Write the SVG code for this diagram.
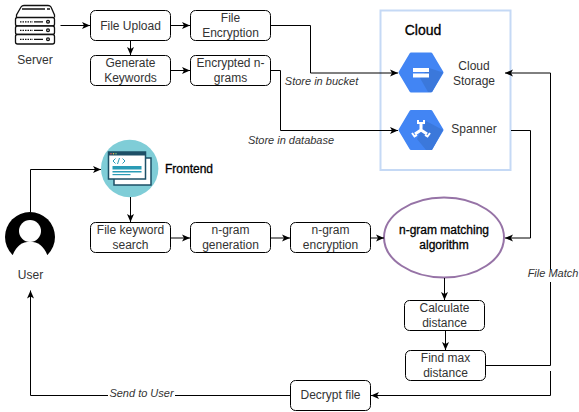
<svg xmlns="http://www.w3.org/2000/svg" width="579" height="412" viewBox="0 0 579 412">
<style>
.box{fill:#fff;stroke:#000;stroke-width:1}
.c{fill:none;stroke:#000;stroke-width:1}
text{font-family:"Liberation Sans",Arial,sans-serif;font-size:12px;fill:#333;text-anchor:middle}
.i{font-style:italic;font-size:11px}
.b{fill:#000;stroke:#000;stroke-width:.3}
</style>
<defs>
<marker id="a" markerWidth="9" markerHeight="8" refX="8" refY="4" orient="auto" markerUnits="userSpaceOnUse"><path d="M0 .5L8 4L0 7.500L2 4Z" fill="#000"/></marker>
</defs>
<g id="server" fill="none" stroke="#111" stroke-width="1.300">
<path d="M16.500 17.500V15L21 7Q22 5.500 24 5.500H48Q50 5.500 51 7L54.500 15V17.500" fill="#fff"/>
<path d="M22 9H45M47 9H50" stroke-width="1.500"/>
<rect x="15.500" y="17.500" width="39" height="8.500" rx="2" fill="#fff"/>
<rect x="15.500" y="26" width="39" height="8.500" rx="2" fill="#fff"/>
<rect x="15.500" y="34.500" width="39" height="9.500" rx="2" fill="#fff"/>
<path d="M20 21.800H33M20 30.300H33M20 39.300H33" stroke-dasharray="1.500 1"/>
<path d="M34 21.800H43M34 30.300H43M34 39.300H43"/>
<circle cx="48" cy="21.800" r="1.400"/><circle cx="48" cy="30.300" r="1.400"/><circle cx="48" cy="39.300" r="1.400"/>
<text x="35" y="64" stroke="none">Server</text>
</g>
<g id="file-upload"><rect class="box" x="90.500" y="10.500" width="80" height="30" rx="5"/><text x="130.500" y="29.500">File Upload</text></g>
<g id="file-encryption"><rect class="box" x="190.500" y="10.500" width="80" height="30" rx="5"/><text x="230.500" y="22">File</text><text x="230.500" y="37">Encryption</text></g>
<g id="generate-keywords"><rect class="box" x="90.500" y="55.500" width="80" height="30" rx="5"/><text x="130.500" y="67">Generate</text><text x="130.500" y="82">Keywords</text></g>
<g id="encrypted-ngrams"><rect class="box" x="190.500" y="55.500" width="80" height="30" rx="5"/><text x="230.500" y="67">Encrypted n-</text><text x="230.500" y="82">grams</text></g>
<g id="cloud">
<rect x="380.500" y="10.500" width="130" height="159.500" fill="#fff" stroke="#c5d9f5" stroke-width="2"/>
<text class="b" x="423" y="35" style="font-size:14px">Cloud</text>
</g>
<g id="cloud-storage">
<path d="M400 72.500L411 54H431L442 72.500L431 91H411Z" fill="#4285f4" stroke="#4285f4" stroke-width="3" stroke-linejoin="round"/>
<path d="M420 78L429 68L443 72.500L432 92H428Z" fill="#3b78db"/>
<rect x="413" y="68" width="16" height="4" fill="#fff"/><rect x="413" y="73.500" width="16" height="4" fill="#fff"/>
<text x="474" y="70">Cloud</text><text x="474" y="85">Storage</text>
</g>
<g id="spanner">
<path d="M400 130L411 111.500H431L442 130L431 148.500H411Z" fill="#4285f4" stroke="#4285f4" stroke-width="3" stroke-linejoin="round"/>
<path d="M426 121L443 130L432 150H426L417 139Z" fill="#3b78db"/>
<g stroke="#fff" fill="none"><path d="M421 130V124M421 130L415 134M421 130L427 134" stroke-width="3"/><path d="M418 120V123H424V120M412 133L414.500 136.500L417 135M430 133L427.500 136.500L425 135" stroke-width="2"/></g>
<text x="474" y="133">Spanner</text>
</g>
<g id="frontend">
<circle cx="129.700" cy="168.500" r="28.700" fill="#7fcdd7"/>
<rect x="114" y="158" width="37" height="27" fill="#fff" stroke="#1d4f66" stroke-width="1.500"/>
<rect x="108.500" y="152" width="37" height="27" fill="#fff" stroke="#1d4f66" stroke-width="1.500"/>
<rect x="108.500" y="152" width="37" height="3.500" fill="#1d4f66"/>
<circle cx="111" cy="153.700" r=".8" fill="#e8645a"/><circle cx="113.500" cy="153.700" r=".8" fill="#f2c14e"/><circle cx="116" cy="153.700" r=".8" fill="#7ac27a"/>
<rect x="112.500" y="166" width="29" height="3.500" fill="#2a9bb5"/><rect x="112.500" y="171" width="29" height="1.500" fill="#2a9bb5"/><rect x="112.500" y="174" width="18" height="1.200" fill="#2a9bb5"/>
<path d="M115.500 158.500L113 161L115.500 163.500M119.500 158L117.500 164M122.500 158.500L125 161L122.500 163.500" fill="none" stroke="#2a9bb5" stroke-width="1"/>
<text class="b" x="189" y="173">Frontend</text>
</g>
<g id="user">
<circle cx="30" cy="237" r="25" fill="#000"/>
<path d="M12.700 255Q18 241.700 30 241.700Q42 241.700 47.300 255V264H12.700Z" fill="#fff"/>
<rect x="4" y="255" width="52" height="9" fill="#fff"/>
<circle cx="30" cy="231" r="11" fill="#fff"/>
<text x="30.500" y="279">User</text>
</g>
<g id="file-keyword-search"><rect class="box" x="90.500" y="222.500" width="80" height="30" rx="5"/><text x="130.500" y="234">File keyword</text><text x="130.500" y="249">search</text></g>
<g id="ngram-generation"><rect class="box" x="190.500" y="222.500" width="80" height="30" rx="5"/><text x="230.500" y="234">n-gram</text><text x="230.500" y="249">generation</text></g>
<g id="ngram-encryption"><rect class="box" x="290.500" y="222.500" width="80" height="30" rx="5"/><text x="330.500" y="234">n-gram</text><text x="330.500" y="249">encryption</text></g>
<g id="ngram-matching"><ellipse cx="444" cy="237.500" rx="60" ry="40" fill="#fff" stroke="#9673a6" stroke-width="2"/><text class="b" x="444" y="234">n-gram matching</text><text class="b" x="444" y="249">algorithm</text></g>
<g id="calculate-distance"><rect class="box" x="404.500" y="300.500" width="80" height="30" rx="5"/><text x="444.500" y="312">Calculate</text><text x="444.500" y="327">distance</text></g>
<g id="find-max-distance"><rect class="box" x="405.500" y="350.500" width="80" height="30" rx="5"/><text x="445.500" y="362">Find max</text><text x="445.500" y="377">distance</text></g>
<g id="decrypt-file"><rect class="box" x="290.500" y="380.500" width="80" height="30" rx="5"/><text x="330.500" y="399">Decrypt file</text></g>
<g id="connectors">
<path class="c" marker-end="url(#a)" d="M60.500 25.500H90"/>
<path class="c" marker-end="url(#a)" d="M170.500 25.500H190"/>
<path class="c" marker-end="url(#a)" d="M130.500 40.500V55"/>
<path class="c" marker-end="url(#a)" d="M170.500 70.500H190"/>
<path class="c" marker-end="url(#a)" d="M270.500 25.500H310.500V73H398"/>
<path class="c" marker-end="url(#a)" d="M270.500 70.500H280.500V130.500H398"/>
<path class="c" marker-end="url(#a)" d="M511 130.500H530.500V238H505"/>
<path class="c" marker-end="url(#a)" d="M485.500 365.500H550.500V73H505"/>
<path class="c" marker-end="url(#a)" d="M550.500 371V395.500H371"/>
<path class="c" marker-end="url(#a)" d="M290.500 395.500H30.500V290.500"/>
<path class="c" marker-end="url(#a)" d="M30.500 212V169.500H101"/>
<path class="c" marker-end="url(#a)" d="M130.500 197V222"/>
<path class="c" marker-end="url(#a)" d="M170.500 238H190"/>
<path class="c" marker-end="url(#a)" d="M270.500 238H290"/>
<path class="c" marker-end="url(#a)" d="M370.500 238H384"/>
<path class="c" marker-end="url(#a)" d="M444.500 278V300"/>
<path class="c" marker-end="url(#a)" d="M445.500 330.500V350"/>
<rect x="527" y="270" width="51" height="12" fill="#fff"/>
<rect x="108" y="390" width="67" height="11" fill="#fff"/>
<text class="i" x="321.500" y="85">Store in bucket</text>
<text class="i" x="291" y="144">Store in database</text>
<text class="i" x="553" y="277">File Match</text>
<text class="i" x="141.500" y="397">Send to User</text>
</g>
</svg>
